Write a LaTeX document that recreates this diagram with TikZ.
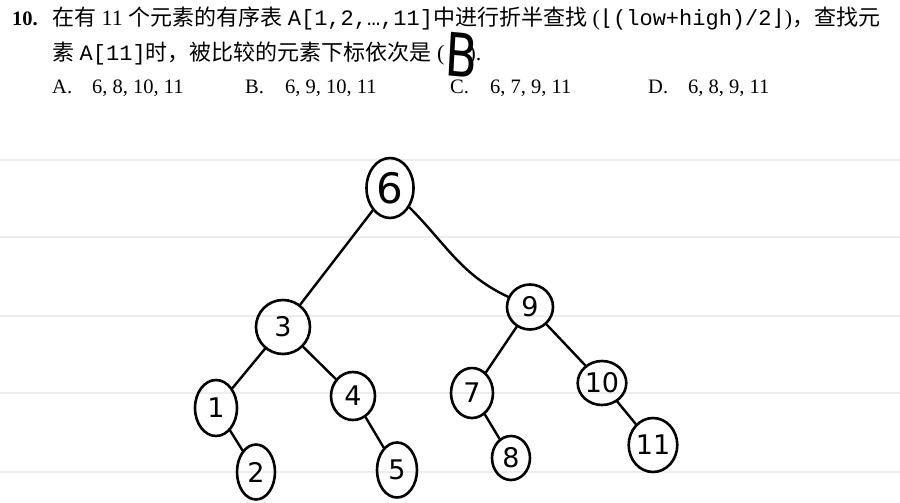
\documentclass[tikz,border=0pt]{standalone}
\usepackage{fontspec}
\setmainfont{Liberation Serif}
\setmonofont{Liberation Mono}
\newfontfamily\cjk{Noto Sans CJK SC}
\newfontfamily\hand{DejaVu Sans}
\newfontfamily\symf{DejaVu Sans Mono}
\usetikzlibrary{shapes.geometric}
\begin{document}
\begin{tikzpicture}[x=1pt,y=-1pt,
  txt/.style={anchor=base west, inner sep=0pt, font=\fontsize{20.5}{24}\selectfont},
  qtxt/.style={anchor=base west, inner sep=0pt, font=\fontsize{22}{24}\selectfont},
  nd/.style={draw, ellipse, line width=2.6pt, inner sep=0pt, font=\hand\fontsize{27}{27}\selectfont},
  edge/.style={line width=2.4pt, line cap=round},
  rule/.style={draw=black!7, line width=1.5pt}]
\useasboundingbox (0,0) rectangle (900,503);
\fill[white] (0,0) rectangle (900,503);
% ruled lines
\foreach \yy in {160,237,316,393,472} \draw[rule] (0,\yy) -- (900,\yy);
% question text
\node[txt] (num) at (12,26) {\textbf{10.}};
\node[qtxt] (l1) at (52,26) {{\cjk 在有} 11 {\cjk 个元素的有序表} \texttt{A[1,2,…,11]}{\cjk 中进行折半查找} ({\symf ⌊}\texttt{(low+high)/2}{\symf ⌋}){\cjk ，查找元}};
\node[qtxt] (l2) at (52,60) {{\cjk 素} \texttt{A[11]}{\cjk 时，被比较的元素下标依次是} (\hspace{24pt}).};
\node[anchor=center, inner sep=0pt, font=\hand\fontsize{60}{60}\selectfont, xscale=0.78, rotate=-4] (ans) at (462,55) {B};
\node[txt] (oa) at (52,93) {\makebox[40pt][l]{A.}6, 8, 10, 11};
\node[txt] (ob) at (245,93) {\makebox[40pt][l]{B.}6, 9, 10, 11};
\node[txt] (oc) at (450,93) {\makebox[40pt][l]{C.}6, 7, 9, 11};
\node[txt] (od) at (648,93) {\makebox[40pt][l]{D.}6, 8, 9, 11};
% tree nodes
\node[nd, minimum width=47pt, minimum height=60pt, font=\hand\fontsize{42}{42}\selectfont] (n6) at (390,188) {6};
\node[nd, minimum width=54pt, minimum height=54pt] (n3) at (283,327) {3};
\node[nd, minimum width=46pt, minimum height=45pt] (n9) at (530,307) {9};
\node[nd, minimum width=42pt, minimum height=56pt] (n1) at (216,408) {1};
\node[nd, minimum width=38pt, minimum height=55pt] (n2) at (256,472) {2};
\node[nd, minimum width=44pt, minimum height=48pt] (n4) at (353,396) {4};
\node[nd, minimum width=40pt, minimum height=55pt] (n5) at (397,470) {5};
\node[nd, minimum width=42pt, minimum height=50pt] (n7) at (472,393) {7};
\node[nd, minimum width=38pt, minimum height=44pt] (n8) at (511,458) {8};
\node[nd, minimum width=44pt, minimum height=44pt] (n10) at (602,383) {10};
\node[nd, minimum width=44pt, minimum height=54pt] (n11) at (653,445) {11};
% edges
\draw[edge] (n6) -- (n3);
\draw[edge] (n6) to[out=-45, in=155] (n9);
\draw[edge] (n3) -- (n1);
\draw[edge] (n3) -- (n4);
\draw[edge] (n1) -- (n2);
\draw[edge] (n4) -- (n5);
\draw[edge] (n9) -- (n7);
\draw[edge] (n9) -- (n10);
\draw[edge] (n7) -- (n8);
\draw[edge] (n10) -- (n11);
\end{tikzpicture}
\end{document}
